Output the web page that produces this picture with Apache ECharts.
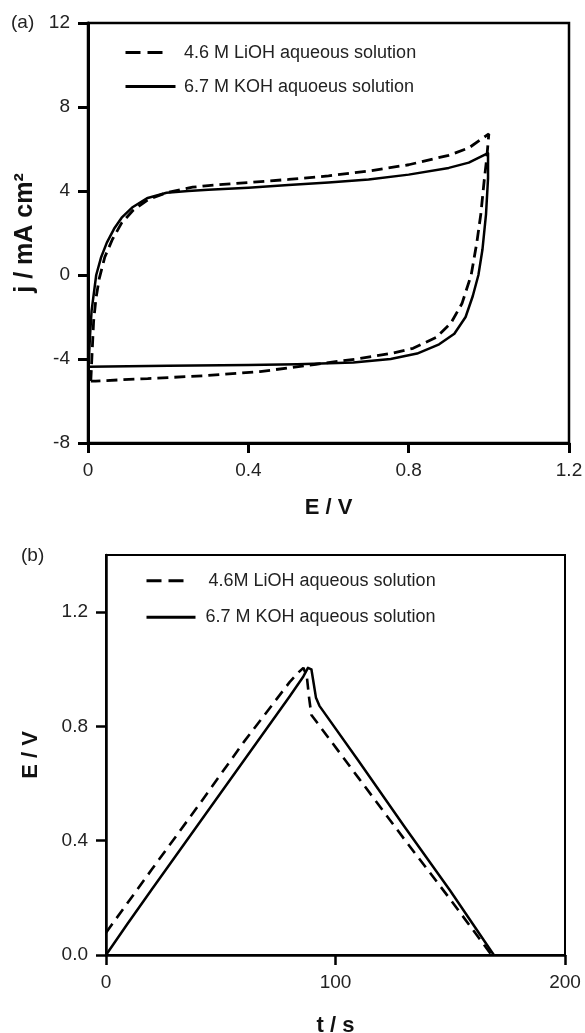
<!DOCTYPE html>
<html>
<head>
<meta charset="utf-8">
<script src="https://cdn.jsdelivr.net/npm/echarts@6/dist/echarts.min.js"></script>
<style>
  html, body { margin: 0; padding: 0; background: #fff; }
  #main { width: 585px; height: 1033px; }
</style>
</head>
<body>
<div id="main"></div>
<script>
// (a) cyclic voltammograms, E / V vs j / mA cm-2 (one full loop each)
const cvLiohName = '4.6 M LiOH aqueous solution';
const cvKohName = '6.7 M KOH aquoeus solution';
const cvLiohE = [0.007, 0.010, 0.014, 0.020, 0.028, 0.042, 0.061, 0.084, 0.112, 0.149, 0.196, 0.261, 0.3, 0.4, 0.5, 0.6, 0.7, 0.8, 0.9, 0.95, 1.0,
  0.995, 0.989, 0.980, 0.970, 0.956, 0.933, 0.905, 0.868, 0.811, 0.755, 0.671, 0.569, 0.429, 0.289, 0.149, 0.019, 0.007];
const cvLiohJ = [-5.05, -3.8, -2.2, -1.1, -0.17, 0.86, 1.7, 2.48, 3.07, 3.58, 3.92, 4.18, 4.26, 4.4, 4.55, 4.72, 4.95, 5.25, 5.7, 6.05, 6.72,
  5.6, 4.6, 2.9, 1.54, 0.0, -1.36, -2.3, -2.98, -3.49, -3.74, -4.0, -4.25, -4.6, -4.8, -4.93, -5.05, -5.05];
const cvKohE = [0.002, 0.005, 0.009, 0.0205, 0.033, 0.047, 0.065, 0.084, 0.112, 0.149, 0.196, 0.25, 0.3, 0.4, 0.5, 0.6, 0.7, 0.8, 0.9, 0.95, 0.998,
  0.998, 0.993, 0.984, 0.974, 0.960, 0.942, 0.914, 0.876, 0.821, 0.755, 0.662, 0.522, 0.4, 0.2, 0.05, 0.002, 0.002];
const cvKohJ = [-4.08, -2.9, -1.7, 0.0, 0.86, 1.54, 2.2, 2.73, 3.24, 3.67, 3.92, 4.0, 4.06, 4.16, 4.28, 4.4, 4.55, 4.78, 5.1, 5.35, 5.8,
  4.6, 2.9, 1.2, 0.0, -1.0, -2.0, -2.8, -3.3, -3.74, -4.0, -4.17, -4.25, -4.28, -4.32, -4.36, -4.37, -4.08];

// (b) galvanostatic charge / discharge, t / s vs E / V
const gcdLiohName = '4.6M LiOH aqueous solution';
const gcdKohName = '6.7 M KOH aqueous solution';
const gcdLiohT = [0, 20, 40, 60, 80, 84, 86, 87.5, 88.5, 89.5, 110, 130, 150, 168];
const gcdLiohE = [0.078, 0.3, 0.52, 0.745, 0.955, 0.99, 1.005, 0.975, 0.9, 0.84, 0.62, 0.405, 0.195, 0];
const gcdKohT = [0, 9, 20, 40, 60, 80, 86, 88, 89.5, 90.5, 91.5, 93, 110, 130, 150, 169];
const gcdKohE = [0, 0.105, 0.23, 0.455, 0.68, 0.905, 0.975, 1.005, 1.0, 0.95, 0.9, 0.872, 0.68, 0.45, 0.225, 0];
const gcdTicksE = [0, 0.4, 0.8, 1.2];

const FONT = '"Liberation Sans", Arial, sans-serif';
const pairs = (xs, ys) => xs.map((x, i) => [x, ys[i]]);

const myChart = echarts.init(document.getElementById('main'));

function axisBase(lineW) {
  return {
    type: 'value',
    splitLine: { show: false },
    axisLine: { onZero: false, lineStyle: { color: '#000', width: lineW } },
    axisTick: { inside: false, length: 10, lineStyle: { color: '#000', width: lineW } },
    axisLabel: { fontSize: 19, color: '#222', margin: 18, fontFamily: FONT },
    nameLocation: 'middle',
    nameTextStyle: { fontSize: 22, fontWeight: 'bold', color: '#111', fontFamily: FONT }
  };
}

function legendItem(name, left, top, width, dash, pad) {
  return {
    data: [name],
    left: left, top: top,
    padding: 0,
    itemWidth: width, itemHeight: 18,
    selectedMode: false,
    itemStyle: { color: 'transparent', borderColor: 'transparent', borderWidth: 0 },
    lineStyle: { type: dash, width: 3, color: '#000' },
    textStyle: { fontSize: 18, color: '#222', fontFamily: FONT, padding: [0, 0, 0, pad] }
  };
}

const option = {
  animation: false,
  backgroundColor: '#fff',
  grid: [
    { left: 88, top: 23, right: 16, height: 420, show: true, borderColor: '#000', borderWidth: 2.5,
      outerBoundsMode: 'none', containLabel: false },
    { left: 106, top: 555, right: 20, height: 400, show: true, borderColor: '#000', borderWidth: 2,
      outerBoundsMode: 'none', containLabel: false }
  ],
  xAxis: [
    Object.assign(axisBase(3), { gridIndex: 0, min: 0, max: 1.2, interval: 0.4, name: 'E / V', nameGap: 54 }),
    Object.assign(axisBase(2.5), { gridIndex: 1, min: 0, max: 200, interval: 100, name: 't / s', nameGap: 60 })
  ],
  yAxis: [
    (function () {
      const a = axisBase(3);
      a.gridIndex = 0; a.min = -8; a.max = 12; a.interval = 4;
      a.name = 'j / mA cm²'; a.nameGap = 50;
      a.nameTextStyle = Object.assign({}, a.nameTextStyle, { fontSize: 25 });
      return a;
    })(),
    (function () {
      const a = axisBase(2.5);
      a.gridIndex = 1; a.min = 0; a.max = 1.4;
      a.axisTick = Object.assign({}, a.axisTick, { customValues: gcdTicksE });
      a.axisLabel = Object.assign({}, a.axisLabel, { customValues: gcdTicksE, formatter: v => v.toFixed(1) });
      a.name = 'E / V'; a.nameGap = 64;
      return a;
    })()
  ],
  legend: [
    legendItem(cvLiohName, 124, 43.6, 38, [15, 7], 15.5),
    legendItem(cvKohName, 124, 77.6, 50, 'solid', 3.5),
    legendItem(gcdLiohName, 145, 571.7, 38, [15, 7], 19),
    legendItem(gcdKohName, 145, 608.3, 49, 'solid', 5)
  ],
  graphic: [
    { type: 'text', left: 11, top: 13, style: { text: '(a)', fontSize: 19, fill: '#222', fontFamily: FONT } },
    { type: 'text', left: 21, top: 546, style: { text: '(b)', fontSize: 19, fill: '#222', fontFamily: FONT } }
  ],
  series: [
    { name: cvLiohName, type: 'line', xAxisIndex: 0, yAxisIndex: 0, symbol: 'none', silent: true,
      itemStyle: { color: '#000' },
      lineStyle: { color: '#000', width: 2.8, type: [11, 6] }, data: pairs(cvLiohE, cvLiohJ) },
    { name: cvKohName, type: 'line', xAxisIndex: 0, yAxisIndex: 0, symbol: 'none', silent: true,
      itemStyle: { color: '#000' },
      lineStyle: { color: '#000', width: 2.5, join: 'round' }, data: pairs(cvKohE, cvKohJ) },
    { name: gcdLiohName, type: 'line', xAxisIndex: 1, yAxisIndex: 1, symbol: 'none', silent: true,
      itemStyle: { color: '#000' },
      lineStyle: { color: '#000', width: 2.6, type: [11, 7] }, data: pairs(gcdLiohT, gcdLiohE) },
    { name: gcdKohName, type: 'line', xAxisIndex: 1, yAxisIndex: 1, symbol: 'none', silent: true,
      itemStyle: { color: '#000' },
      lineStyle: { color: '#000', width: 2.5, join: 'round' }, data: pairs(gcdKohT, gcdKohE) }
  ]
};

myChart.setOption(option);
</script>
</body>
</html>
